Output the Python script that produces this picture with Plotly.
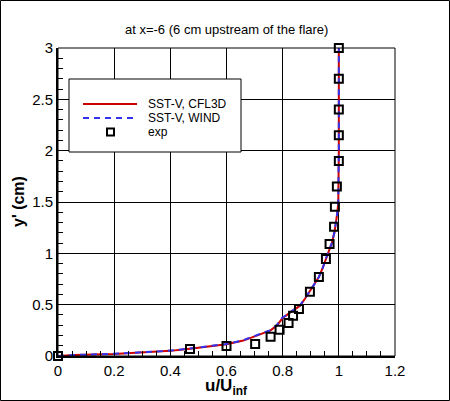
import plotly.graph_objects as go

# CFL3D / WIND profiles
y_cfl3d = [0, 0.005, 0.01, 0.02, 0.035, 0.05, 0.07, 0.09, 0.115, 0.15, 0.19, 0.25, 0.30, 0.37,
           0.43, 0.49, 0.56, 0.63, 0.70, 0.77, 0.86, 0.95, 1.03, 1.10, 1.2, 1.3, 1.4, 1.5,
           1.65, 1.8, 2.0, 2.5, 3.0]
u_cfl3d = [0, 0.02, 0.06, 0.20, 0.32, 0.40, 0.47, 0.53, 0.60, 0.66, 0.70, 0.757, 0.78, 0.80,
           0.83, 0.862, 0.88, 0.897, 0.913, 0.929, 0.943, 0.954, 0.965, 0.975, 0.984, 0.99,
           0.995, 0.998, 0.999, 1.0, 1.0, 1.0, 1.0]
y_wind = [0, 0.005, 0.01, 0.02, 0.035, 0.05, 0.07, 0.09, 0.115, 0.15, 0.19, 0.25, 0.30, 0.37,
          0.43, 0.49, 0.56, 0.63, 0.70, 0.77, 0.86, 0.95, 1.03, 1.10, 1.2, 1.3, 1.4, 1.5,
          1.65, 1.8, 2.0, 2.5, 3.0]
u_wind = [0, 0.02, 0.06, 0.19, 0.31, 0.39, 0.46, 0.525, 0.595, 0.655, 0.698, 0.755, 0.779, 0.798,
          0.829, 0.861, 0.879, 0.897, 0.913, 0.929, 0.943, 0.954, 0.965, 0.975, 0.984, 0.99,
          0.995, 0.998, 0.999, 1.0, 1.0, 1.0, 1.0]

# experiment
u_exp = [0, 0.47, 0.60, 0.702, 0.757, 0.789, 0.821, 0.837, 0.858, 0.897, 0.929, 0.954,
         0.967, 0.983, 0.986, 0.993, 1.0, 1.0, 1.0, 1.0, 1.0]
y_exp = [0, 0.068, 0.097, 0.117, 0.188, 0.256, 0.321, 0.393, 0.458, 0.626, 0.77, 0.945,
         1.09, 1.26, 1.454, 1.65, 1.90, 2.15, 2.40, 2.70, 3.0]

legend_names = ["SST-V, CFL3D", "SST-V, WIND", "exp"]
title_text = "at x=-6 (6 cm upstream of the flare)"

RED = "#cc0000"
BLUE = "#3333ee"

fig = go.Figure()
fig.add_trace(go.Scatter(x=u_cfl3d, y=y_cfl3d, mode="lines", name=legend_names[0],
                         line=dict(color=RED, width=2)))
fig.add_trace(go.Scatter(x=u_wind, y=y_wind, mode="lines", name=legend_names[1],
                         line=dict(color=BLUE, width=2, dash="6px,5px")))
fig.add_trace(go.Scatter(x=u_exp, y=y_exp, mode="markers", name=legend_names[2],
                         marker=dict(symbol="square-open", size=8, color="black",
                                     line=dict(width=2, color="black")),
                         cliponaxis=False))

# plot area in pixels: x 58..395, y 48..356
L, R, T, B = 58, 395, 48, 356
W, H = R - L, B - T


def px(xp):
    return (xp - L) / W


def py(yp):
    return (B - yp) / H


shapes = [
    # outer frame of the picture
    dict(type="rect", xref="paper", yref="paper", x0=px(0.5), x1=px(449.5),
         y0=py(400.5), y1=py(0.5), line=dict(color="black", width=1)),
    # plot frame
    dict(type="rect", xref="paper", yref="paper", x0=0, x1=1, y0=0, y1=1,
         line=dict(color="black", width=1)),
    # legend box
    dict(type="rect", xref="paper", yref="paper", x0=px(69), x1=px(241),
         y0=py(152), y1=py(79), fillcolor="white", line=dict(color="black", width=1),
         layer="above"),
    dict(type="line", xref="paper", yref="paper", x0=px(83), x1=px(137),
         y0=py(104), y1=py(104), line=dict(color=RED, width=2), layer="above"),
    dict(type="line", xref="paper", yref="paper", x0=px(83), x1=px(137),
         y0=py(118), y1=py(118), line=dict(color=BLUE, width=2, dash="6px,5px"), layer="above"),
    dict(type="rect", xref="paper", yref="paper", x0=px(107), x1=px(114),
         y0=py(135.5), y1=py(128.5), line=dict(color="black", width=2), layer="above"),
]

annotations = [
    dict(text=title_text, xref="paper", yref="paper", x=px(226), y=py(30),
         showarrow=False, font=dict(size=13, color="black"), xanchor="center", yanchor="middle"),
    dict(text="<b>u/U<sub>inf</sub></b>", xref="paper", yref="paper", x=px(226), y=py(387),
         showarrow=False, font=dict(size=17, color="black"), xanchor="center", yanchor="middle"),
    dict(text="<b>y' (cm)</b>", xref="paper", yref="paper", x=px(18), y=py(202),
         showarrow=False, textangle=-90, font=dict(size=16, color="black"),
         xanchor="center", yanchor="middle"),
]
for i, name in enumerate(legend_names):
    annotations.append(dict(text=name, xref="paper", yref="paper", x=px(146), y=py(104 + 14 * i),
                            showarrow=False, font=dict(size=12, color="black"),
                            xanchor="left", yanchor="middle"))

axis_common = dict(
    showgrid=True, gridcolor="black", gridwidth=1, zeroline=False,
    showline=True, linecolor="black", linewidth=2,
    ticks="inside", ticklen=9, tickwidth=1, tickcolor="black",
    tickfont=dict(size=15, color="black"),
)

fig.update_layout(
    width=450, height=401,
    margin=dict(l=L, r=450 - R, t=T, b=401 - B),
    paper_bgcolor="white", plot_bgcolor="white",
    font=dict(family="Arial, Liberation Sans, sans-serif", color="black"),
    showlegend=False,
    xaxis=dict(range=[0, 1.2], dtick=0.2, tickformat="~g",
               minor=dict(dtick=0.05, ticks="inside", ticklen=5, tickcolor="black", showgrid=False),
               **axis_common),
    yaxis=dict(range=[0, 3], dtick=0.5, tickformat="~g",
               minor=dict(dtick=0.1, ticks="inside", ticklen=5, tickcolor="black", showgrid=False),
               **axis_common),
    shapes=shapes,
    annotations=annotations,
)

# page body has a default 8px margin; drop it so the figure fills the window
fig.write_html("out.html", config={"displayModeBar": False},
               post_script="document.body.style.margin='0px';")
